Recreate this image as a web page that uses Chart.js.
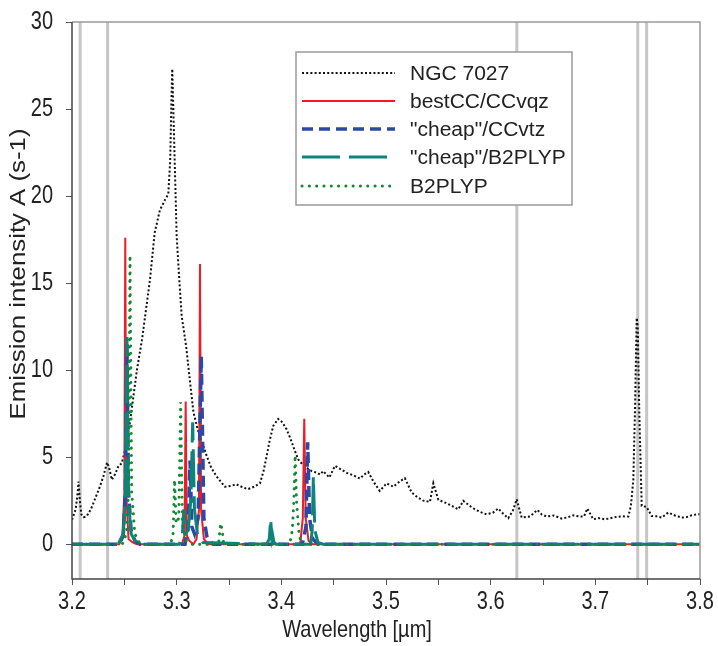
<!DOCTYPE html>
<html>
<head>
<meta charset="utf-8">
<script src="https://cdn.jsdelivr.net/npm/chart.js@4.4.1/dist/chart.umd.min.js"></script>
<style>
  body { margin: 0; background: #fff; }
</style>
</head>
<body>
<canvas id="spec" width="718" height="646"></canvas>
<script>
// ---- data ----
let ngcX = [3.200,3.2035,3.2055,3.2062,3.2075,3.209,3.211,3.214,3.218,3.222,3.226,3.230,3.2335,3.2355,3.238,3.241,3.2445,3.2475,3.2515,3.2554,3.262,3.267,3.2745,3.279,3.284,3.289,3.292,3.2938,3.2952,3.2958,3.2968,3.2978,3.300,3.3025,3.3048,3.309,3.313,3.316,3.320,3.324,3.3287,3.333,3.338,3.346,3.352,3.357,3.362,3.368,3.374,3.3796,3.383,3.386,3.389,3.3923,3.397,3.401,3.405,3.4085,3.4115,3.416,3.420,3.424,3.429,3.434,3.437,3.440,3.4458,3.4513,3.457,3.4625,3.469,3.4752,3.479,3.483,3.488,3.494,3.5007,3.507,3.513,3.518,3.5245,3.530,3.5356,3.542,3.5452,3.550,3.556,3.5611,3.569,3.5739,3.580,3.585,3.590,3.596,3.602,3.6073,3.612,3.6168,3.621,3.6249,3.6296,3.6376,3.6446,3.649,3.6535,3.660,3.668,3.674,3.679,3.684,3.6892,3.6923,3.698,3.703,3.7092,3.715,3.7204,3.726,3.7315,3.734,3.7363,3.738,3.7395,3.7405,3.742,3.7443,3.749,3.7538,3.7585,3.7634,3.7697,3.776,3.7825,3.787,3.792,3.798,3.800]
let ngcY = [1.4,2.0,3.0,3.6,2.5,1.7,1.55,1.6,2.0,2.6,3.2,3.9,4.7,4.4,3.7,4.0,4.5,4.65,5.6,7.0,10.0,11.8,15.2,17.9,19.2,19.8,20.1,22,26,27.3,25,22.7,17.7,15.2,13.1,11.4,9.2,7.6,6.6,5.9,5.07,4.4,3.9,3.3,3.35,3.44,3.3,3.16,3.3,3.5,4.2,5.07,6.0,6.8,7.2,7.0,6.6,6.1,5.6,4.88,4.6,4.4,4.2,4.1,4.0,4.2,3.83,4.5,4.3,4.1,3.95,3.77,4.0,4.15,3.6,3.06,3.5,3.3,3.6,3.79,2.97,2.7,2.5,2.43,3.5,2.55,2.4,2.26,2.0,2.49,2.2,2.0,1.85,1.72,1.8,2.05,1.75,1.49,1.9,2.58,1.53,1.59,1.97,1.7,1.59,1.65,1.47,1.55,1.66,1.6,1.59,2.05,1.43,1.5,1.43,1.5,1.57,1.6,1.59,2.2,3.7,8,13.0,12.5,7.55,2.2,2.14,1.62,1.6,1.53,1.82,1.65,1.53,1.55,1.66,1.72,1.72]

let bestX = [3.200,3.245,3.248,3.250,3.2509,3.2518,3.254,3.258,3.262,3.305,3.3075,3.3086,3.3097,3.312,3.316,3.319,3.3213,3.3223,3.3233,3.326,3.330,3.418,3.4205,3.4219,3.4233,3.426,3.430,3.800]
let bestY = [0,0,0.3,3,17.6,3,0.3,0.1,0,0,0.5,8.2,0.5,0.2,0,0.3,2,16.1,2,0.3,0,0,1.5,7.2,1.5,0.2,0,0]

let ccvtzX = [3.200,3.245,3.249,3.251,3.2525,3.254,3.2565,3.260,3.265,3.308,3.311,3.3128,3.3145,3.317,3.3205,3.3235,3.326,3.329,3.335,3.420,3.4235,3.4252,3.427,3.430,3.435,3.800]
let ccvtzY = [0,0,0.5,3,11.5,3,0.8,0.2,0,0,1,4.8,1,0.6,1.5,10.8,1.5,0.4,0,0,1,5.85,1.5,0.3,0,0]

let cheapB2X = [3.200,3.244,3.249,3.251,3.2525,3.254,3.2565,3.262,3.3025,3.3055,3.3068,3.308,3.311,3.3135,3.3153,3.317,3.320,3.325,3.386,3.3885,3.3898,3.391,3.3918,3.393,3.395,3.428,3.4295,3.4306,3.432,3.435,3.440,3.800]
let cheapB2Y = [0,0,0.6,2.5,11.9,2.5,0.6,0,0,0.6,2.0,0.6,0.8,2.5,7.0,2,0.5,0.1,0,0.3,1.45,0.3,0.5,0.1,0,0,0.8,3.9,0.8,0.1,0,0]

let b2plypX = [3.200,3.248,3.252,3.254,3.2554,3.257,3.260,3.265,3.294,3.2965,3.298,3.2995,3.302,3.3038,3.3055,3.309,3.315,3.340,3.342,3.3435,3.345,3.408,3.4105,3.412,3.4132,3.4145,3.417,3.420,3.800]
let b2plypY = [0,0,0.6,3,16.6,3,0.6,0,0,0.5,3.7,1.2,1.5,8.15,1.2,0.2,0,0,1.2,0.8,0,0,0.8,2.5,5.1,2.5,0.5,0,0]

let labels = ['NGC 7027', 'bestCC/CCvqz', '"cheap"/CCvtz', '"cheap"/B2PLYP', 'B2PLYP']
let grayLines = [3.2078, 3.234, 3.625, 3.7405, 3.749]
let xTicks = [3.2,3.25,3.3,3.35,3.4,3.45,3.5,3.55,3.6,3.65,3.7,3.75,3.8]
let xLabels = [3.2,3.3,3.4,3.5,3.6,3.7,3.8]
let yTicks = [0,5,10,15,20,25,30]

const FONT = 'Liberation Sans, Arial, sans-serif'

function pts(xs, ys){
    return xs.map(function(x, i){ return {x: x, y: ys[i]} })
}

// line styles, same order as labels
let styles = [
    {color:'#111111', width:2, dash:[2,2.2], cap:'butt'},
    {color:'#ee1c25', width:2, dash:[], cap:'butt'},
    {color:'#2b48a6', width:3.5, dash:[11,6], cap:'butt'},
    {color:'#0e837c', width:3, dash:[38,9], cap:'butt'},
    {color:'#108a33', width:3, dash:[0.1,7.2], cap:'round'}
]
let series = [pts(ngcX,ngcY), pts(bestX,bestY), pts(ccvtzX,ccvtzY), pts(cheapB2X,cheapB2Y), pts(b2plypX,b2plypY)]
let drawOrder = [5, 4, 3, 2, 1]

// text with separate x/y stretch (the figure's lettering is a bit tall)
function stretchText(ctx, t, x, y, size, sx, sy, align, rot){
    ctx.save()
    ctx.translate(x, y)
    if (rot) ctx.rotate(rot)
    ctx.scale(sx, sy)
    ctx.font = size + 'px ' + FONT
    ctx.fillStyle = '#222'
    ctx.textAlign = align
    ctx.textBaseline = 'middle'
    ctx.fillText(t, 0, 0)
    ctx.restore()
}

// grey vertical markers, behind the spectra
const markers = {
    id: 'markers',
    beforeDatasetsDraw(chart){
        let ctx = chart.ctx, xs = chart.scales.x, a = chart.chartArea
        ctx.save()
        ctx.strokeStyle = '#c6c6c6'
        ctx.lineWidth = 3
        grayLines.forEach(function(v){
            let px = xs.getPixelForValue(v)
            ctx.beginPath()
            ctx.moveTo(px, a.top)
            ctx.lineTo(px, a.bottom)
            ctx.stroke()
        })
        ctx.restore()
    }
}

// frame, axis lettering and boxed legend
const frameLegend = {
    id: 'frameLegend',
    afterDraw(chart){
        let ctx = chart.ctx, a = chart.chartArea
        let xs = chart.scales.x, ys = chart.scales.y
        ctx.save()
        ctx.lineWidth = 1.5
        ctx.strokeStyle = '#9a9a9a'
        ctx.beginPath()
        ctx.moveTo(a.left, a.top); ctx.lineTo(a.right, a.top); ctx.lineTo(a.right, a.bottom)
        ctx.stroke()
        ctx.strokeStyle = '#444'
        ctx.beginPath()
        ctx.moveTo(a.left, a.top); ctx.lineTo(a.left, a.bottom); ctx.lineTo(a.right, a.bottom)
        ctx.stroke()
        ctx.restore()

        xLabels.forEach(function(v){
            stretchText(ctx, v.toFixed(1), xs.getPixelForValue(v), a.bottom + 23, 20, 1, 1.3, 'center')
        })
        yTicks.forEach(function(v){
            stretchText(ctx, String(v), 53, ys.getPixelForValue(v), 20, 1, 1.3, 'right')
        })
        stretchText(ctx, 'Wavelength [µm]', 357, 630, 20, 1, 1.2, 'center')
        stretchText(ctx, 'Emission intensity A (s-1)', 19, 274, 20, 1.29, 1.1, 'center', -Math.PI / 2)

        // legend box
        ctx.save()
        let bx = 296, by = 52, bw = 276, bh = 153
        ctx.fillStyle = '#fff'
        ctx.fillRect(bx, by, bw, bh)
        ctx.strokeStyle = '#9a9a9a'
        ctx.lineWidth = 1.5
        ctx.strokeRect(bx, by, bw, bh)
        let rows = [73, 101, 129, 157, 186]
        labels.forEach(function(t, i){
            let s = styles[i]
            ctx.strokeStyle = s.color
            ctx.lineWidth = s.width
            ctx.lineCap = s.cap
            ctx.setLineDash(s.dash)
            ctx.beginPath()
            ctx.moveTo(302, rows[i])
            ctx.lineTo(395, rows[i])
            ctx.stroke()
            ctx.setLineDash([])
            stretchText(ctx, t, 410, rows[i] + 1, 20, 1.05, 1, 'left')
        })
        ctx.restore()
    }
}

let datasets = labels.map(function(l, i){
    let s = styles[i]
    return {
        label: l,
        data: series[i],
        borderColor: s.color,
        borderWidth: s.width,
        borderDash: s.dash,
        borderCapStyle: s.cap,
        pointRadius: 0,
        tension: 0,
        fill: false,
        order: drawOrder[i]
    }
})

let chart = new Chart(document.getElementById('spec').getContext('2d'), {
    type: 'line',
    data: { datasets: datasets },
    options: {
        responsive: false,
        animation: false,
        devicePixelRatio: 1,
        layout: { padding: { top: 22, right: 18, left: 0, bottom: 0 } },
        plugins: { legend: { display: false }, tooltip: { enabled: false } },
        scales: {
            x: {
                type: 'linear', min: 3.2, max: 3.8,
                afterBuildTicks: function(ax){ ax.ticks = xTicks.map(function(v){ return {value: v} }) },
                afterFit: function(ax){ ax.height = 67 },
                border: { display: false },
                grid: { drawOnChartArea: false, drawTicks: true, tickLength: 6, color: '#555', lineWidth: 1 },
                ticks: { display: false },
                title: { display: false }
            },
            y: {
                type: 'linear', min: -2, max: 30,
                afterBuildTicks: function(ax){ ax.ticks = yTicks.map(function(v){ return {value: v} }) },
                afterFit: function(ax){ ax.width = 72 },
                border: { display: false },
                grid: { drawOnChartArea: false, drawTicks: true, tickLength: 6, color: '#555', lineWidth: 1 },
                ticks: { display: false },
                title: { display: false }
            }
        }
    },
    plugins: [markers, frameLegend]
})
</script>
</body>
</html>
